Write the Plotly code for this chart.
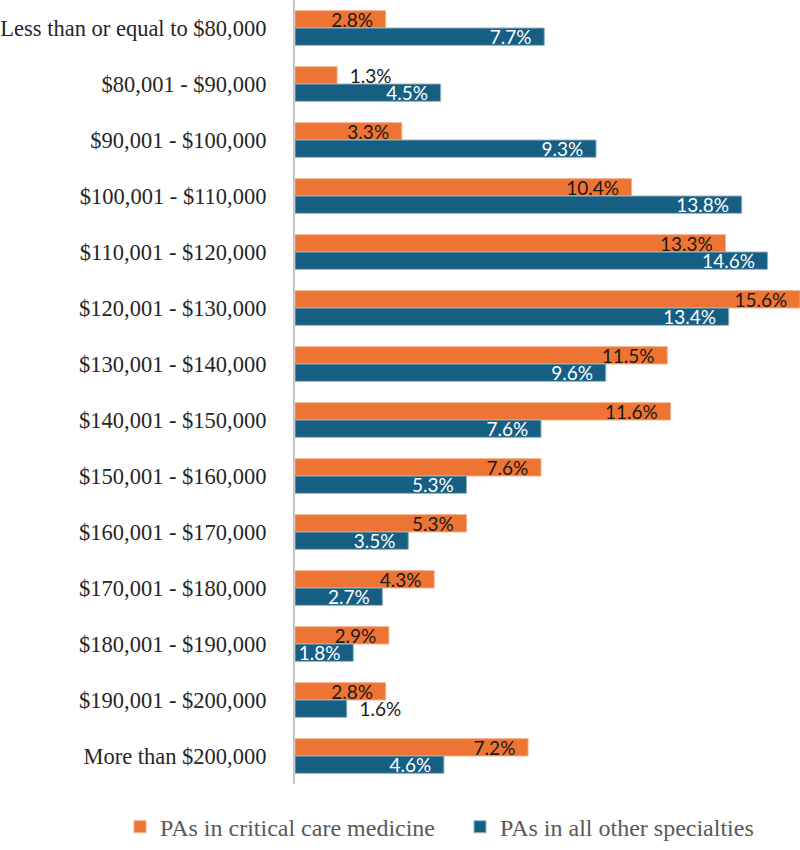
import plotly.graph_objects as go

categories = [
    "Less than or equal to $80,000", "$80,001 - $90,000", "$90,001 - $100,000",
    "$100,001 - $110,000", "$110,001 - $120,000", "$120,001 - $130,000",
    "$130,001 - $140,000", "$140,001 - $150,000", "$150,001 - $160,000",
    "$160,001 - $170,000", "$170,001 - $180,000", "$180,001 - $190,000",
    "$190,001 - $200,000", "More than $200,000",
]
critical_care = [2.8, 1.3, 3.3, 10.4, 13.3, 15.6, 11.5, 11.6, 7.6, 5.3, 4.3, 2.9, 2.8, 7.2]
other_specialties = [7.7, 4.5, 9.3, 13.8, 14.6, 13.4, 9.6, 7.6, 5.3, 3.5, 2.7, 1.8, 1.6, 4.6]
series_names = ["PAs in critical care medicine", "PAs in all other specialties"]

ORANGE = "#EE7433"
BLUE = "#175E83"
DARK = "#1A1A1A"
LABEL_FONT = "Lato, Liberation Sans, sans-serif"
SERIF = "Liberation Serif, Times New Roman, serif"
PAD = "\u00a0\u00a0"
THRESH = 1.7

def positions(vals):
    return ["outside" if v < THRESH else "inside" for v in vals]

def colors(vals, inside_color):
    return [DARK if v < THRESH else inside_color for v in vals]

def labels(vals):
    return [(PAD + f"{v:.1f}%") if v < THRESH else (f"{v:.1f}%" + PAD) for v in vals]

fig = go.Figure()
fig.add_trace(go.Bar(
    y=categories, x=critical_care, orientation="h", name=series_names[0],
    marker=dict(color=ORANGE, line=dict(color="#F3B08A", width=1)),
    text=labels(critical_care),
    textposition=positions(critical_care),
    insidetextanchor="end",
    textfont=dict(family=LABEL_FONT, size=19, color=colors(critical_care, DARK)),
    constraintext="none", cliponaxis=False,
))
fig.add_trace(go.Bar(
    y=categories, x=other_specialties, orientation="h", name=series_names[1],
    marker=dict(color=BLUE, line=dict(color="#8FB3C8", width=1)),
    text=labels(other_specialties),
    textposition=positions(other_specialties),
    insidetextanchor="end",
    textfont=dict(family=LABEL_FONT, size=19, color=colors(other_specialties, "white")),
    constraintext="none", cliponaxis=False,
))

fig.update_layout(
    width=800, height=850,
    barmode="group", bargap=0.38, bargroupgap=0,
    plot_bgcolor="white", paper_bgcolor="white",
    margin=dict(l=293, r=0, t=0, b=64),
    font=dict(family=SERIF, size=22, color="#262626"),
    xaxis=dict(range=[0, 15.6], showgrid=False, showticklabels=False,
               zeroline=False, showline=False, fixedrange=True),
    yaxis=dict(autorange="reversed", showgrid=False, showline=True,
               linecolor="#C8C8C8", linewidth=2, ticks="", ticklabelstandoff=22,
               tickfont=dict(family=SERIF, size=22.5, color="#262626")),
    legend=dict(orientation="h", xref="paper", x=-0.152, xanchor="left",
                yref="paper", y=-0.055, yanchor="middle",
                font=dict(family=SERIF, size=24, color="#595959"),
                itemwidth=30, entrywidth=295, entrywidthmode="pixels",
                traceorder="normal"),
    showlegend=True,
)

fig.write_html("out.html", config={"displayModeBar": False},
               post_script="document.body.style.margin='0';")
